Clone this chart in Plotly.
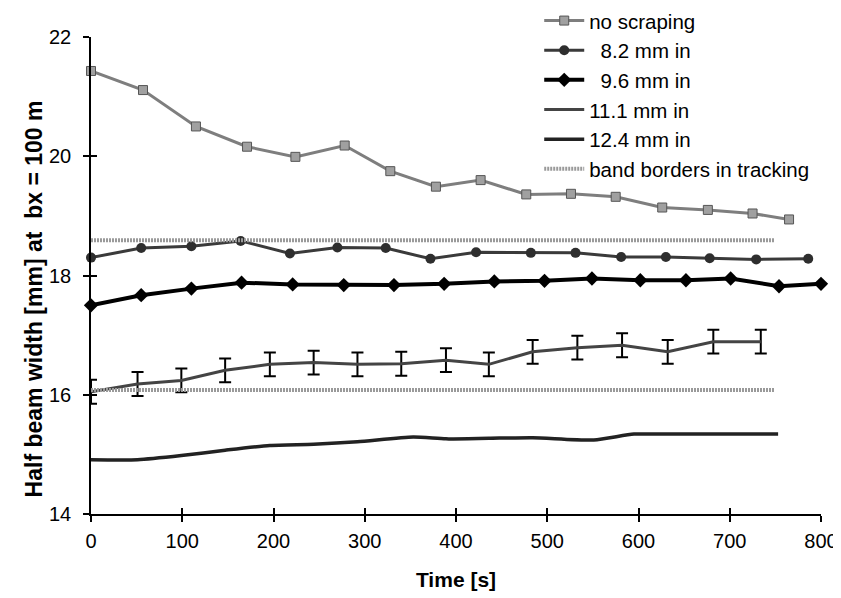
import plotly.graph_objects as go

# ---- data ----
t_noscr = [0, 57, 115, 171, 224, 278, 328, 378, 427, 477, 526, 575, 626, 676, 725, 765]
w_noscr = [21.43, 21.11, 20.50, 20.16, 19.99, 20.18, 19.75, 19.49, 19.60, 19.36, 19.37, 19.32, 19.14, 19.10, 19.04, 18.94]

t_82 = [0, 55, 110, 164, 218, 270, 323, 372, 422, 482, 531, 581, 630, 678, 729, 786]
w_82 = [18.30, 18.46, 18.49, 18.58, 18.37, 18.47, 18.46, 18.28, 18.39, 18.38, 18.38, 18.31, 18.31, 18.29, 18.27, 18.28]

t_96 = [0, 55, 110, 165, 221, 277, 332, 387, 442, 497, 549, 602, 652, 701, 754, 800]
w_96 = [17.50, 17.67, 17.78, 17.88, 17.85, 17.84, 17.84, 17.86, 17.90, 17.91, 17.95, 17.92, 17.92, 17.95, 17.82, 17.86]

t_111 = [0, 51, 99, 147, 196, 244, 292, 340, 389, 436, 484, 533, 582, 632, 682, 734]
w_111 = [16.05, 16.18, 16.24, 16.41, 16.51, 16.54, 16.51, 16.52, 16.58, 16.51, 16.72, 16.79, 16.83, 16.72, 16.89, 16.89]
err_111 = [0.2] * 16

t_124 = [0, 51, 99, 147, 196, 244, 292, 353, 389, 436, 484, 551, 595, 632, 683, 753]
w_124 = [14.91, 14.91, 14.98, 15.07, 15.15, 15.17, 15.21, 15.29, 15.26, 15.27, 15.28, 15.24, 15.34, 15.34, 15.34, 15.34]

band_t = [0, 749, None, 0, 749]
band_w = [18.59, 18.59, None, 16.08, 16.08]

x_ticks = [0, 100, 200, 300, 400, 500, 600, 700, 800]
y_ticks = [14, 16, 18, 20, 22]

FONT = "Liberation Sans, Arial, Helvetica, sans-serif"
NB = "\u00a0"
Y_TITLE = "Half beam width [mm] at" + NB * 2 + "bx = 100 m"

fig = go.Figure()

fig.add_trace(go.Scatter(
    x=t_noscr, y=w_noscr, name="no scraping", mode="lines+markers",
    line=dict(color="#7e7e7e", width=3),
    marker=dict(symbol="square", size=9, color="#a0a0a0", line=dict(color="#555", width=1)),
    cliponaxis=False))

fig.add_trace(go.Scatter(
    x=t_82, y=w_82, name=NB * 2 + "8.2 mm in", mode="lines+markers",
    line=dict(color="#3a3a3a", width=3),
    marker=dict(symbol="circle", size=10, color="#2e2e2e"),
    cliponaxis=False))

fig.add_trace(go.Scatter(
    x=t_96, y=w_96, name=NB * 2 + "9.6 mm in", mode="lines+markers",
    line=dict(color="#000000", width=4),
    marker=dict(symbol="diamond", size=11, color="#000000"),
    cliponaxis=False))

fig.add_trace(go.Scatter(
    x=t_111, y=w_111, name="11.1 mm in", mode="lines",
    line=dict(color="#444444", width=3),
    error_y=dict(type="data", array=err_111, visible=True, color="#000000", thickness=2, width=6),
    cliponaxis=False))

fig.add_trace(go.Scatter(
    x=t_124, y=w_124, name="12.4 mm in", mode="lines",
    line=dict(color="#222222", width=3.5, shape="spline", smoothing=0.6),
    cliponaxis=False))

fig.add_trace(go.Scatter(
    x=band_t, y=band_w, name="band borders in tracking", mode="lines",
    line=dict(color="#9a9a9a", width=4, dash="2px,1px"),
    xaxis="x2", yaxis="y2", cliponaxis=False))

axis_common = dict(showgrid=False, zeroline=False, linecolor="black", linewidth=1.5,
                   tickcolor="black", tickwidth=1.5, ticklen=6,
                   tickfont=dict(family=FONT, size=20, color="black"))

# page body adds an 8 px offset, so the figure is 8 px smaller on each axis
fig.update_layout(
    width=833, height=590,
    margin=dict(l=83, r=20, t=29, b=84, autoexpand=False),
    paper_bgcolor="white", plot_bgcolor="white",
    font=dict(family=FONT, color="black"),
    xaxis=dict(range=[0, 800], tickmode="array", tickvals=x_ticks, ticks="outside",
               showline=True, ticklabelstandoff=2,
               title=dict(text="<b>Time [s]</b>", font=dict(family=FONT, size=21), standoff=22),
               **axis_common),
    yaxis=dict(range=[14, 22], tickmode="array", tickvals=y_ticks, ticks="outside",
               showline=True, ticklabelstandoff=8,
               **axis_common),
    xaxis2=dict(range=[0, 800], overlaying="x", tickmode="array", tickvals=x_ticks,
                ticks="inside", showticklabels=False, showline=False, showgrid=False,
                zeroline=False, tickcolor="black", tickwidth=1.5, ticklen=6),
    yaxis2=dict(range=[14, 22], overlaying="y", tickmode="array", tickvals=y_ticks,
                ticks="inside", showticklabels=False, showline=False, showgrid=False,
                zeroline=False, tickcolor="black", tickwidth=1.5, ticklen=6),
    legend=dict(x=0.614, y=1.076, xanchor="left", yanchor="top",
                font=dict(family=FONT, size=20.5, color="black"),
                bgcolor="rgba(255,255,255,0)", borderwidth=0, tracegroupgap=0,
                itemwidth=40),
    annotations=[dict(text="<b>" + Y_TITLE + "</b>", xref="paper", yref="paper",
                      x=-0.078, y=0.45, xanchor="center", yanchor="middle",
                      textangle=-90, showarrow=False,
                      font=dict(family=FONT, size=23, color="black"))],
    showlegend=True,
)

fig.write_html("out.html")
